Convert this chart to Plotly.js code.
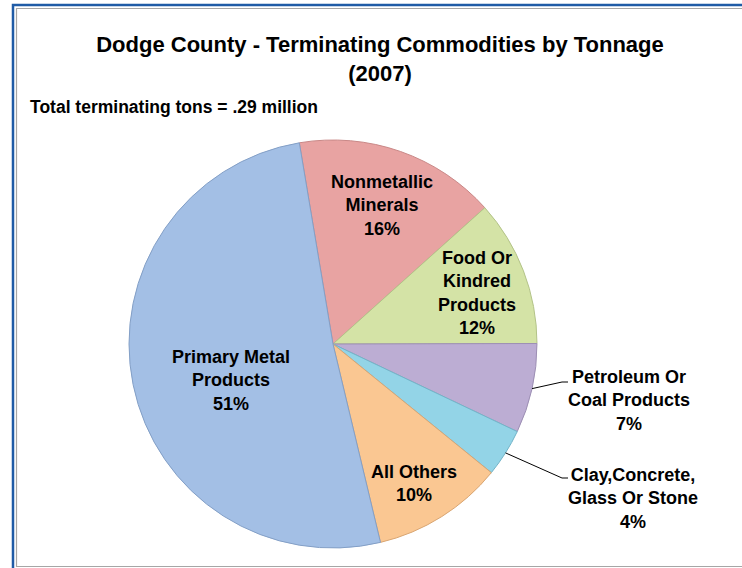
<!DOCTYPE html>
<html>
<head>
<meta charset="utf-8">
<script src="https://cdn.plot.ly/plotly-3.0.1.min.js"></script>
<style>
html,body{margin:0;padding:0;background:#fff;}
#chart{width:742px;height:568px;}
</style>
</head>
<body>
<div id="chart"></div>
<script>
// ---- data ----
const categories = ['Nonmetallic Minerals', 'Food Or Kindred Products', 'Petroleum Or Coal Products', 'Clay,Concrete, Glass Or Stone', 'All Others', 'Primary Metal Products'];
const labelText = ['Nonmetallic<br>Minerals', 'Food Or<br>Kindred<br>Products', 'Petroleum Or<br>Coal Products', 'Clay,Concrete,<br>Glass Or Stone', 'All Others', 'Primary Metal<br>Products'];
const shares = [16.0, 11.6, 7.1, 3.8, 10.4, 51.1];
const titleText = 'Dodge County - Terminating Commodities by Tonnage<br>(2007)';
const subtitleText = 'Total terminating tons = .29 million';

// ---- style ----
const colors = ['#E8A3A2', '#D4E3A6', '#BCADD3', '#93D4E7', '#FAC792', '#A3BFE5'];
const lineColors = ['#C98887', '#B3C388', '#9D8FB4', '#72B4C8', '#D9A673', '#839FC6'];
const FONT = 'Liberation Sans Narrow, Arial Narrow, sans-serif';
const W = 742, H = 568;
const M = {l: 129, r: 205, t: 140, b: 20};
const ROT = -9.5;
// label placement: 'in' = inside label, 'out' = outside with leader line
const labelMode = ['in', 'in', 'out', 'out', 'in', 'in'];
const inFrac = [0.72, 0.75, 0, 0, 0.79, 0.53];
const inAngleAdj = [0, 1.6, 0, 0, 2.2, -8];
const outElbow = [null, null, [562, 382], [562, 478], null, null];
const outText = [null, null, [566, 400], [566, 498], null, null];
const LABEL_SIZE = 18;

const pw = W - M.l - M.r, ph = H - M.t - M.b;
const cx = M.l + pw / 2, cy = M.t + ph / 2, R = Math.min(pw, ph) / 2;
const px = x => (x - M.l) / pw;
const py = y => 1 - (y - M.t) / ph;

const total = shares.reduce((a, b) => a + b, 0);
const pct = shares.map(v => Math.round(v / total * 100) + '%');

// mid angles (degrees, clockwise from 12 o'clock)
let acc = ROT;
const mids = shares.map(v => { const a = v / total * 360; const m = acc + a / 2; acc += a; return m; });

const annotations = [];
const shapes = [];
const d2r = Math.PI / 180;
shares.forEach((v, i) => {
  const txt = '<b>' + labelText[i] + '<br>' + pct[i] + '</b>';
  if (labelMode[i] === 'in') {
    const a = (mids[i] + inAngleAdj[i]) * d2r;
    const x = cx + inFrac[i] * R * Math.sin(a);
    const y = cy - inFrac[i] * R * Math.cos(a);
    annotations.push({xref: 'paper', yref: 'paper', x: px(x), y: py(y), xanchor: 'center', yanchor: 'middle',
      text: txt, showarrow: false, align: 'center', font: {family: FONT, size: LABEL_SIZE, color: '#000'}});
  } else {
    const a = mids[i] * d2r;
    const ex = cx + R * Math.sin(a), ey = cy - R * Math.cos(a);
    const [bx, by] = outElbow[i];
    const [tx, ty] = outText[i];
    shapes.push({type: 'path', xref: 'paper', yref: 'paper',
      path: `M ${px(ex)} ${py(ey)} L ${px(bx)} ${py(by)} L ${px(bx + 6)} ${py(by)}`,
      line: {color: '#000', width: 1}});
    annotations.push({xref: 'paper', yref: 'paper', x: px(tx), y: py(ty), xanchor: 'left', yanchor: 'middle',
      text: txt, showarrow: false, align: 'center', font: {family: FONT, size: LABEL_SIZE, color: '#000'}});
  }
});

// subtitle
annotations.push({xref: 'paper', yref: 'paper', x: px(28), y: py(107), xanchor: 'left', yanchor: 'middle',
  text: '<b>' + subtitleText + '</b>', showarrow: false, font: {family: FONT, size: 17.5, color: '#000'}});

// chart border (Excel-style frame)
shapes.push({type: 'path', xref: 'paper', yref: 'paper', layer: 'above',
  path: `M ${px(13)} ${py(575)} L ${px(13)} ${py(5)} L ${px(760)} ${py(5)}`, line: {color: '#1F5BA6', width: 2.5}});
shapes.push({type: 'path', xref: 'paper', yref: 'paper', layer: 'above',
  path: `M ${px(760)} ${py(8.5)} L ${px(16.5)} ${py(8.5)} L ${px(16.5)} ${py(566.5)} L ${px(760)} ${py(566.5)}`, line: {color: '#A6A6A6', width: 1.2}});

const data = [{
  type: 'pie',
  labels: categories,
  values: shares,
  sort: false,
  direction: 'clockwise',
  rotation: ROT,
  textinfo: 'none',
  hoverinfo: 'label+percent',
  marker: {colors: colors, line: {color: lineColors, width: 1}},
  showlegend: false
}];

const layout = {
  width: W, height: H,
  margin: M,
  paper_bgcolor: '#fff',
  showlegend: false,
  title: {text: '<b>' + titleText + '</b>', x: 380 / W, xanchor: 'center', xref: 'container',
    y: 1 - 52 / H, yanchor: 'top', yref: 'container',
    font: {family: FONT, size: 22, color: '#000'}},
  annotations: annotations,
  shapes: shapes
};

Plotly.newPlot('chart', data, layout, {displayModeBar: false, staticPlot: true});
</script>
</body>
</html>
